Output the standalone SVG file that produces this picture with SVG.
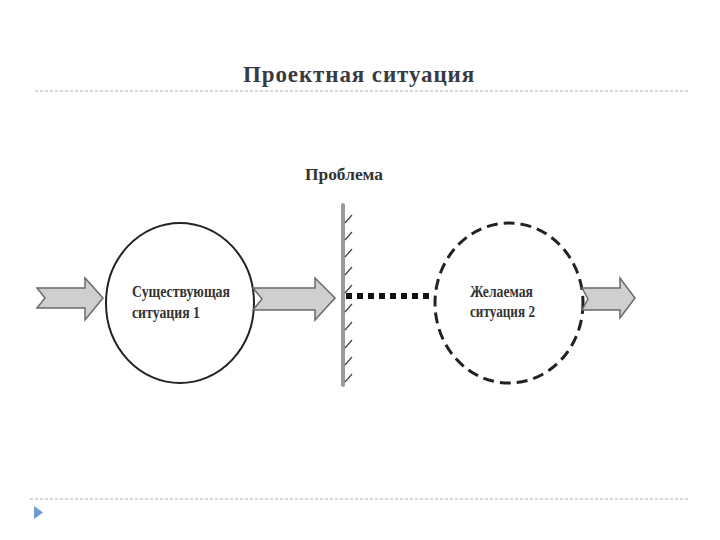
<svg xmlns="http://www.w3.org/2000/svg" width="720" height="540" viewBox="0 0 720 540">
<style>
.title{font-family:"Liberation Serif","DejaVu Serif",serif;font-weight:bold;font-size:23px;fill:#3a3a44;letter-spacing:0.9px}
.lbl{font-family:"Liberation Serif","Times New Roman",serif;font-weight:bold;font-size:16px;fill:#333}
.arrow{fill:#cfcfcf;stroke:#6a6a6a;stroke-width:1.5;stroke-linejoin:miter}
.sep{stroke:#b0b0b0;stroke-width:1;stroke-dasharray:3 2;fill:none}
.hatch{stroke:#444;stroke-width:1.2;fill:none}
</style>
<rect width="720" height="540" fill="#fff"/>
<text class="title" x="359" y="82" text-anchor="middle">Проектная ситуация</text>
<line class="sep" x1="35" y1="91" x2="688" y2="91"/>
<line class="sep" x1="30" y1="499" x2="688" y2="499"/>
<polygon points="34,506 34,519 43,512.5" fill="#6b9bd1"/>

<g id="existing">
<ellipse cx="180" cy="303" rx="74" ry="80" fill="#fff" stroke="#222" stroke-width="2"/>
<text class="lbl" x="132" y="297" textLength="98" lengthAdjust="spacingAndGlyphs">Существующая</text>
<text class="lbl" x="132" y="318" textLength="68" lengthAdjust="spacingAndGlyphs">ситуация 1</text>
</g>

<g id="desired">
<ellipse cx="509" cy="303" rx="74" ry="80" fill="#fff" stroke="#222" stroke-width="3" stroke-dasharray="11 6"/>
<text class="lbl" x="470" y="297" textLength="63" lengthAdjust="spacingAndGlyphs">Желаемая</text>
<text class="lbl" x="470" y="317" textLength="65" lengthAdjust="spacingAndGlyphs">ситуация 2</text>
</g>

<g id="problem">
<text class="lbl" x="344" y="180" text-anchor="middle" font-size="18" textLength="78" lengthAdjust="spacingAndGlyphs">Проблема</text>
<line x1="343" y1="205" x2="343" y2="385" stroke="#9a9a9a" stroke-width="4" stroke-linecap="round"/>
<g class="hatch">
<path d="M345,223 L352,215 M345,240 L352,232 M345,257 L352,249 M345,275 L352,267 M345,293 L352,285 M345,312 L352,304 M345,330 L352,322 M345,348 L352,340 M345,365 L352,357 M345,382 L352,374"/>
</g>
</g>

<g id="connectors">
<polygon class="arrow" points="37,288 85,288 85,278 103,298 85,320 85,308 37,308 45,298"/>
<polygon class="arrow" points="253,288 315,288 315,278 335,298 315,320 315,310 253,310 262,299"/>
<line x1="346" y1="296" x2="433" y2="296" stroke="#111" stroke-width="6" stroke-dasharray="6 5"/>
<polygon class="arrow" points="582,288 620,288 620,278 635,298 620,318 620,310 582,310 588,299"/>
</g>
</svg>
